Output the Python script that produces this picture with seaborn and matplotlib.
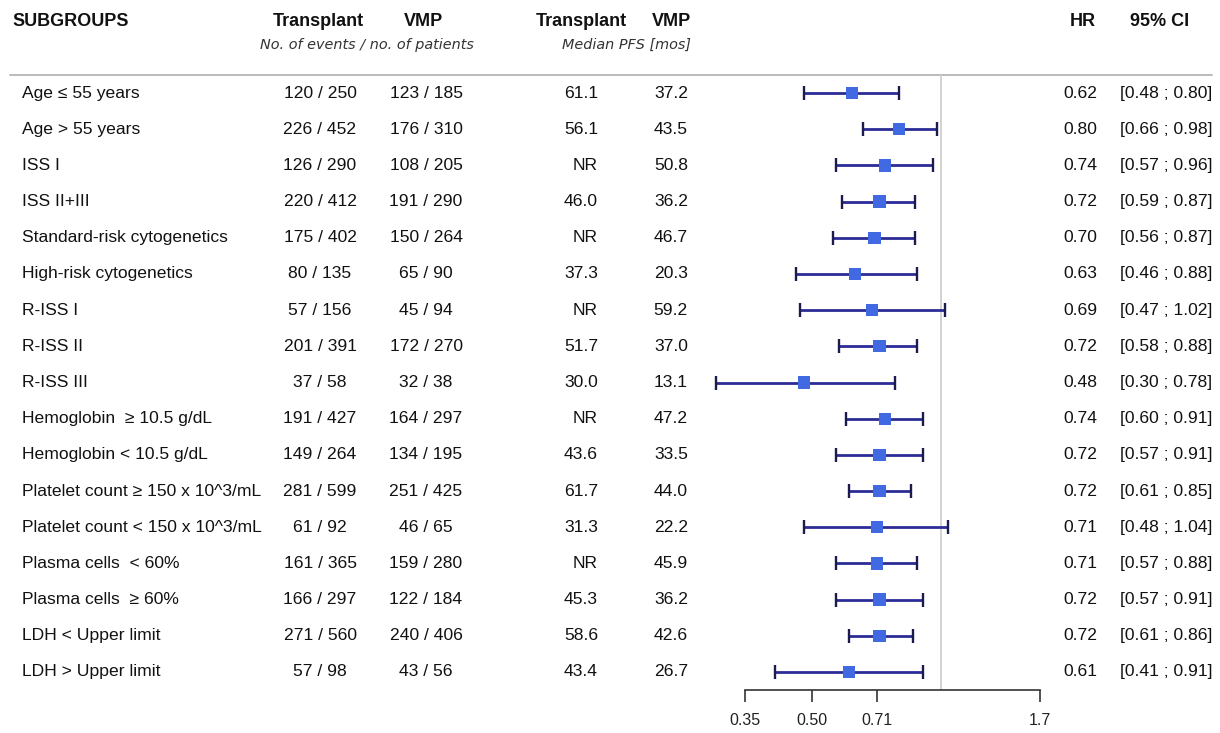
import numpy as np
import pandas as pd
import seaborn as sns
import matplotlib.pyplot as plt
from matplotlib import transforms

# Subgroup data
subgroups = ["Age \u2264 55 years", "Age > 55 years", "ISS I", "ISS II+III",
             "Standard-risk cytogenetics", "High-risk cytogenetics",
             "R-ISS I", "R-ISS II", "R-ISS III",
             "Hemoglobin  \u2265 10.5 g/dL", "Hemoglobin < 10.5 g/dL",
             "Platelet count \u2265 150 x 10^3/mL", "Platelet count < 150 x 10^3/mL",
             "Plasma cells  < 60%", "Plasma cells  \u2265 60%",
             "LDH < Upper limit", "LDH > Upper limit"]
transplant_events = ["120 / 250", "226 / 452", "126 / 290", "220 / 412", "175 / 402",
                     "80 / 135", "57 / 156", "201 / 391", "37 / 58", "191 / 427",
                     "149 / 264", "281 / 599", "61 / 92", "161 / 365", "166 / 297",
                     "271 / 560", "57 / 98"]
vmp_events = ["123 / 185", "176 / 310", "108 / 205", "191 / 290", "150 / 264",
              "65 / 90", "45 / 94", "172 / 270", "32 / 38", "164 / 297",
              "134 / 195", "251 / 425", "46 / 65", "159 / 280", "122 / 184",
              "240 / 406", "43 / 56"]
transplant_pfs = ["61.1", "56.1", "NR", "46.0", "NR", "37.3", "NR", "51.7", "30.0",
                  "NR", "43.6", "61.7", "31.3", "NR", "45.3", "58.6", "43.4"]
vmp_pfs = ["37.2", "43.5", "50.8", "36.2", "46.7", "20.3", "59.2", "37.0", "13.1",
           "47.2", "33.5", "44.0", "22.2", "45.9", "36.2", "42.6", "26.7"]
hr = [0.62, 0.80, 0.74, 0.72, 0.70, 0.63, 0.69, 0.72, 0.48,
      0.74, 0.72, 0.72, 0.71, 0.71, 0.72, 0.72, 0.61]
ci_low = [0.48, 0.66, 0.57, 0.59, 0.56, 0.46, 0.47, 0.58, 0.30,
          0.60, 0.57, 0.61, 0.48, 0.57, 0.57, 0.61, 0.41]
ci_high = [0.80, 0.98, 0.96, 0.87, 0.87, 0.88, 1.02, 0.88, 0.78,
           0.91, 0.91, 0.85, 1.04, 0.88, 0.91, 0.86, 0.91]
x_ticks = [0.35, 0.50, 0.71, 1.7]
x_tick_labels = ["0.35", "0.50", "0.71", "1.7"]

df = pd.DataFrame({"label": subgroups, "hr": hr, "lo": ci_low, "hi": ci_high})
df["row"] = np.arange(len(df))

sns.set_theme(style="white")
plt.rcParams["font.family"] = ["Liberation Sans", "DejaVu Sans"]

fig = plt.figure(figsize=(12.2, 7.33), dpi=100)

# Full-figure axes in pixel units for the table text
txt = fig.add_axes([0, 0, 1, 1])
txt.set_xlim(0, 1220)
txt.set_ylim(733, 0)
txt.axis("off")

# Forest plot axes (log scale)
ax = fig.add_axes([700 / 1220, 1 - 690 / 733, 365 / 1220, 615 / 733])
ax.set_facecolor("none")
ax.set_xscale("log")
ax.set_xlim(0.275, 1.944)
ax.set_ylim(len(df) - 0.5, -0.5)

ax.axvline(1.0, color="#cfcfcf", lw=1.3, zorder=1)
ax.hlines(df["row"], df["lo"], df["hi"], color="#2c2c96", lw=2.0, zorder=2)
ax.scatter(df["lo"], df["row"], marker="|", s=110, color="#1b1b50", linewidths=1.7, zorder=3)
ax.scatter(df["hi"], df["row"], marker="|", s=110, color="#1b1b50", linewidths=1.7, zorder=3)
sns.scatterplot(data=df, x="hr", y="row", marker="s", s=78, color="#4169e1",
                edgecolor="none", zorder=4, ax=ax, legend=False)

for side in ["top", "right", "left"]:
    ax.spines[side].set_visible(False)
ax.spines["bottom"].set_bounds(x_ticks[0], x_ticks[-1])
ax.spines["bottom"].set_color("#333333")
ax.spines["bottom"].set_linewidth(1.2)
ax.set_xticks(x_ticks)
ax.set_xticklabels(x_tick_labels)
ax.xaxis.set_minor_locator(plt.NullLocator())
ax.tick_params(axis="x", bottom=True, direction="out", length=8.5, width=1.2,
               color="#333333", labelsize=11.5, pad=8, labelcolor="#222222")
ax.set_yticks([])
ax.set_xlabel("")
ax.set_ylabel("")

# Header
hdr = dict(fontsize=13, fontweight="bold", color="#111111", va="center")
txt.text(12, 22, "SUBGROUPS", ha="left", **hdr)
txt.text(318, 22, "Transplant", ha="center", **hdr)
txt.text(423, 22, "VMP", ha="center", **hdr)
txt.text(581, 22, "Transplant", ha="center", **hdr)
txt.text(672, 22, "VMP", ha="center", **hdr)
txt.text(1083, 22, "HR", ha="center", **hdr)
txt.text(1160, 22, "95% CI", ha="center", **hdr)
sub = dict(fontsize=10.4, style="italic", color="#333333", va="center",
           family=["DejaVu Sans"])
txt.text(367, 45, "No. of events / no. of patients", ha="center", **sub)
txt.text(691, 45, "Median PFS [mos]", ha="right", **sub)
txt.plot([10, 1212], [75, 75], color="#b5b5b5", lw=1.3)

# Table rows aligned to the forest rows
tr = transforms.blended_transform_factory(txt.transData, ax.transData)
body = dict(fontsize=12.6, color="#111111", va="center", transform=tr)
for i, r in df.iterrows():
    y = r["row"]
    txt.text(22, y, r["label"], ha="left", **body)
    txt.text(320, y, transplant_events[i], ha="center", **body)
    txt.text(426, y, vmp_events[i], ha="center", **body)
    txt.text(598, y, transplant_pfs[i], ha="right", **body)
    txt.text(688, y, vmp_pfs[i], ha="right", **body)
    txt.text(1097, y, f"{hr[i]:.2f}", ha="right", **body)
    txt.text(1120, y, f"[{ci_low[i]:.2f} ; {ci_high[i]:.2f}]", ha="left", **body)

fig.savefig("out.png", dpi=100)
